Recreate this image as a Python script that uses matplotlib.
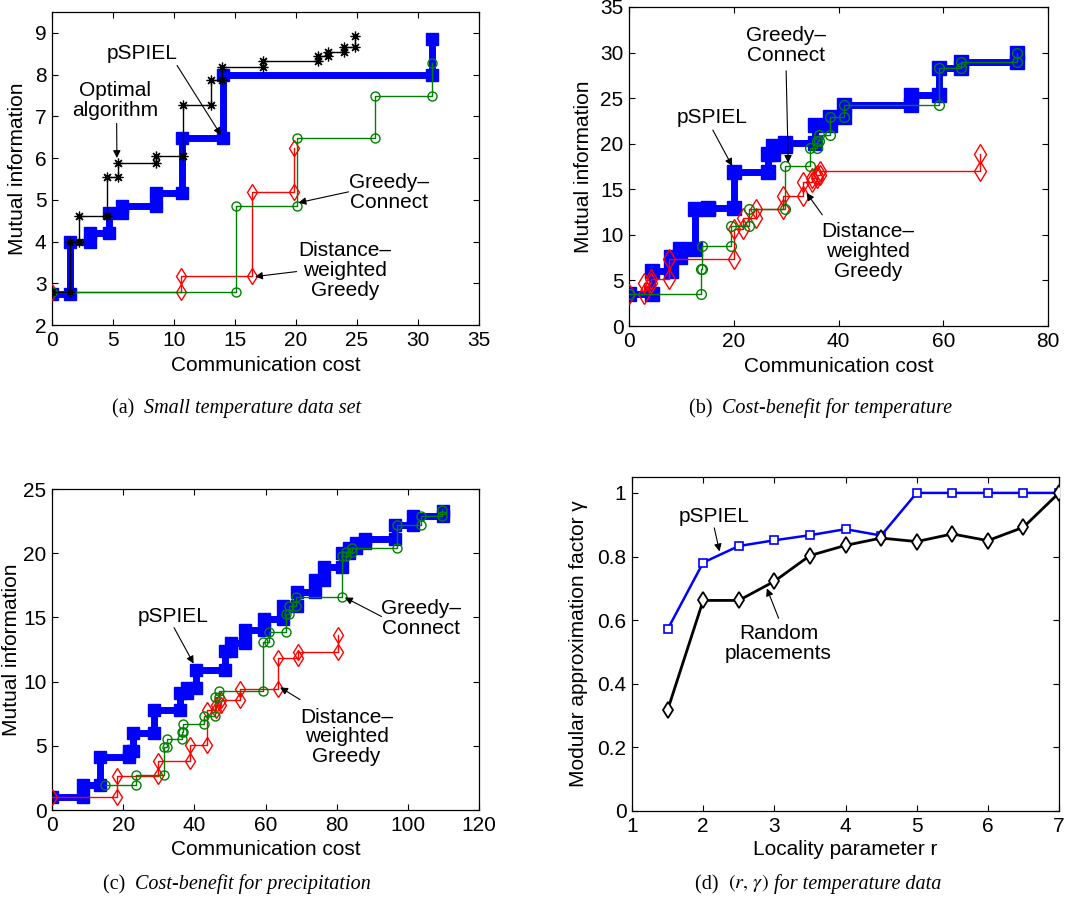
import matplotlib
matplotlib.use("Agg")
import matplotlib.pyplot as plt
from matplotlib.text import Annotation
from matplotlib.ticker import FuncFormatter

plt.rcParams['font.family'] = ['Liberation Sans', 'DejaVu Sans']
plt.rcParams['mathtext.fontset'] = 'stix'

# ---------------- (a) Small temperature data set ----------------
a_pspiel_cost = [0, 1.5, 3.1, 4.7, 5.7, 8.55, 10.65, 14.0, 31.15]
a_pspiel_mi = [2.75, 4.0, 4.2, 4.68, 4.84, 5.16, 6.47, 8.0, 8.86]
a_opt_cost = [0, 1.5, 2.25, 4.5, 5.4, 8.5, 10.7, 13.0, 13.9, 17.3, 21.8, 22.6, 23.9, 24.8]
a_opt_mi = [2.78, 4.0, 4.6, 5.55, 5.87, 6.06, 7.28, 7.88, 8.18, 8.33, 8.45, 8.55, 8.65, 8.93]
a_gc_cost = [0, 15.1, 20.05, 26.45, 31.15]
a_gc_mi = [2.78, 4.84, 6.48, 7.48, 8.27]
a_dwg_cost = [0, 10.6, 16.37, 19.86]
a_dwg_mi = [2.78, 3.18, 5.18, 6.25]

# ---------------- (b) Cost-benefit for temperature ----------------
b_pspiel_cost = [0, 4.3, 8.1, 9.7, 12.6, 15.0, 20.0, 26.5, 27.5, 29.8, 35.6, 38.3,
                 41.0, 53.9, 59.2, 63.3, 74.0]
b_pspiel_mi = [3.5, 6.0, 7.6, 8.4, 12.8, 12.95, 16.9, 18.9, 19.8, 20.1, 22.0, 22.9,
               24.2, 25.3, 28.3, 29.0, 29.9]
b_gc_cost = [0, 13.8, 13.9, 19.5, 22.9, 29.7, 34.6, 35.9, 36.2, 38.3, 41.0, 59.2, 63.3, 74.0]
b_gc_mi = [3.5, 6.25, 8.75, 10.95, 12.85, 17.5, 19.5, 20.3, 21.0, 22.9, 24.2, 28.3, 29.0, 30.0]
b_dwg_cost = [0, 2.9, 4.2, 7.6, 20.0, 21.8, 24.3, 29.4, 33.2, 35.0, 35.8, 36.5, 67.0]
b_dwg_mi = [3.5, 4.7, 5.2, 7.3, 10.6, 11.9, 12.8, 14.25, 15.8, 16.2, 16.6, 17.0, 18.85]

# ---------------- (c) Cost-benefit for precipitation ----------------
c_pspiel_cost = [0, 8.7, 13.4, 21.5, 22.9, 28.7, 36.0, 38.0, 40.5, 48.6, 50.3, 54.3,
                 59.7, 64.8, 68.8, 73.9, 76.5, 81.6, 83.5, 85.5, 88.0, 96.5, 101.5, 110.0]
c_pspiel_mi = [1.04, 1.95, 4.16, 4.6, 6.0, 7.8, 9.1, 9.5, 10.9, 12.35, 13.0, 14.0,
               14.9, 15.85, 17.0, 17.9, 18.9, 20.0, 20.4, 20.8, 21.1, 22.2, 22.9, 23.3]
c_gc_cost = [15.0, 23.7, 31.6, 32.3, 36.5, 36.8, 42.6, 45.8, 47.0, 59.4, 61.1, 65.8,
             66.7, 68.6, 81.6, 82.5, 84.4, 97.0, 103.6, 109.7]
c_gc_mi = [1.95, 2.73, 4.9, 5.5, 6.1, 6.7, 7.3, 8.8, 9.3, 13.1, 13.9, 15.25,
           15.9, 16.55, 19.8, 20.1, 20.4, 22.2, 22.9, 23.4]
c_dwg_cost = [0, 18.4, 29.7, 38.8, 43.7, 46.0, 47.5, 52.7, 63.6, 69.2, 80.4]
c_dwg_mi = [1.04, 2.65, 3.85, 5.07, 7.8, 8.2, 8.6, 9.4, 11.8, 12.3, 13.65]

# ---------------- (d) (r, gamma) for temperature data ----------------
d_r = [1.5, 2.0, 2.5, 3.0, 3.5, 4.0, 4.5, 5.0, 5.5, 6.0, 6.5, 7.0]
d_pspiel_gamma = [0.571, 0.781, 0.833, 0.851, 0.867, 0.886, 0.866, 1.0, 1.0, 1.0, 1.0, 1.0]
d_random_gamma = [0.317, 0.662, 0.662, 0.722, 0.803, 0.835, 0.858, 0.847, 0.871, 0.850, 0.892, 1.0]

BLUE = '#0000ff'
GREEN = '#008000'
RED = '#ff0000'
FS = 15
DASH = '\u2013'


def stairs(costs, vals):
    """Vertices of a staircase: move right at the old value, then up to the new one."""
    xs, ys = [costs[0]], [vals[0]]
    for c, v_prev, v in zip(costs[1:], vals[:-1], vals[1:]):
        xs += [c, c]
        ys += [v_prev, v]
    return xs, ys


def style_axes(ax):
    ax.tick_params(direction='in', top=True, right=True, length=4.5, width=0.8,
                   labelsize=FS, pad=4)
    for s in ax.spines.values():
        s.set_linewidth(0.9)


def pspiel(ax, costs, vals, ms=9):
    xs, ys = stairs(costs, vals)
    ax.plot(xs, ys, color=BLUE, lw=5, marker='s', ms=ms, mfc=BLUE, mec=BLUE, zorder=2)


def greedy_connect(ax, costs, vals, ms=6.5):
    xs, ys = stairs(costs, vals)
    ax.plot(xs, ys, color=GREEN, lw=1.0, marker='o', ms=ms, mfc='none', mec=GREEN,
            mew=1.0, zorder=4)


def dist_weighted(ax, costs, vals, ms=8):
    xs, ys = stairs(costs, vals)
    ax.plot(xs, ys, color=RED, lw=1.0, marker='d', ms=ms, mfc='none', mec=RED,
            mew=1.0, zorder=3)


def label(ax, text, xy, head, tail):
    ax.text(xy[0], xy[1], text, ha='center', va='center', fontsize=FS,
            linespacing=1.05, zorder=6)
    ax.annotate('', xy=head, xytext=tail,
                arrowprops=dict(arrowstyle='-|>', color='k', lw=0.8,
                                mutation_scale=11, shrinkA=0, shrinkB=0), zorder=6)


def axis_labels(ax, xlabel, ylabel, xpos, ypos):
    ax.set_xlabel(xlabel, fontsize=FS)
    ax.set_ylabel(ylabel, fontsize=FS)
    ax.xaxis.set_label_coords(0.5, xpos)
    ax.yaxis.set_label_coords(ypos, 0.5)


W, H = 1074, 905
fig = plt.figure(figsize=(W / 100, H / 100), dpi=100)


def box(l, t, r, b):
    return [l / W, 1 - b / H, (r - l) / W, (b - t) / H]


# (a)
ax = fig.add_axes(box(52, 12, 479, 325))
pspiel(ax, a_pspiel_cost, a_pspiel_mi)
dist_weighted(ax, a_dwg_cost, a_dwg_mi)
greedy_connect(ax, a_gc_cost, a_gc_mi)
xs, ys = stairs(a_opt_cost, a_opt_mi)
ax.plot(xs, ys, color='k', lw=1.0, marker=(8, 2, 0), ms=7, mew=0.9, zorder=5)
ax.set_xlim(0, 35)
ax.set_ylim(2, 9.5)
ax.set_xticks(range(0, 36, 5))
ax.set_yticks(range(2, 10))
label(ax, 'pSPIEL', (7.4, 8.5), (13.85, 6.55), (10.25, 8.22))
label(ax, 'Optimal\nalgorithm', (5.2, 7.38), (5.32, 6.0), (5.3, 6.83))
label(ax, 'Greedy' + DASH + '\nConnect', (27.6, 5.17), (20.2, 4.93), (24.3, 5.19))
label(ax, 'Distance' + DASH + '\nweighted\nGreedy', (24.0, 3.3), (16.64, 3.16), (20.05, 3.28))
axis_labels(ax, 'Communication cost', 'Mutual information', -0.099, -0.058)
style_axes(ax)

# (b)
ax = fig.add_axes(box(629, 7, 1048, 326))
pspiel(ax, b_pspiel_cost, b_pspiel_mi, ms=10)
dist_weighted(ax, b_dwg_cost, b_dwg_mi, ms=10)
greedy_connect(ax, b_gc_cost, b_gc_mi, ms=7)
ax.set_xlim(0, 80)
ax.set_ylim(0, 35)
ax.set_xticks(range(0, 81, 20))
ax.set_yticks(range(0, 36, 5))
label(ax, 'Greedy' + DASH + '\nConnect', (29.9, 30.8), (30.4, 17.9), (30.0, 28.0))
label(ax, 'pSPIEL', (15.9, 22.9), (19.7, 17.55), (16.0, 21.5))
label(ax, 'Distance' + DASH + '\nweighted\nGreedy', (45.6, 8.2), (33.9, 14.6), (36.9, 12.2))
axis_labels(ax, 'Communication cost', 'Mutual information', -0.097, -0.086)
style_axes(ax)

# (c)
ax = fig.add_axes(box(52, 489, 479, 810))
pspiel(ax, c_pspiel_cost, c_pspiel_mi)
dist_weighted(ax, c_dwg_cost, c_dwg_mi)
greedy_connect(ax, c_gc_cost, c_gc_mi)
ax.set_xlim(0, 120)
ax.set_ylim(0, 25)
ax.set_xticks(range(0, 121, 20))
ax.set_yticks(range(0, 26, 5))
label(ax, 'pSPIEL', (34.1, 15.1), (39.8, 11.4), (34.3, 14.2))
label(ax, 'Greedy' + DASH + '\nConnect', (103.8, 14.9), (82.3, 16.55), (92.6, 15.07))
label(ax, 'Distance' + DASH + '\nweighted\nGreedy', (82.8, 5.7), (64.1, 9.55), (69.7, 8.6))
axis_labels(ax, 'Communication cost', 'Mutual information', -0.093, -0.072)
style_axes(ax)

# (d)
ax = fig.add_axes(box(632, 477, 1059, 811))
ax.plot(d_r, d_pspiel_gamma, color=BLUE, lw=1.8, marker='s', ms=6, mfc='white',
        mec=BLUE, mew=1.2, zorder=3)
ax.plot(d_r, d_random_gamma, color='k', lw=2.0, marker='d', ms=8.5, mfc='white',
        mec='k', mew=1.3, zorder=4)
ax.set_xlim(1, 7)
ax.set_ylim(0, 1.05)
ax.set_xticks(range(1, 8))
ax.set_yticks([0, 0.2, 0.4, 0.6, 0.8, 1.0])
ax.yaxis.set_major_formatter(FuncFormatter(lambda v, p: '%g' % round(v, 2)))
label(ax, 'pSPIEL', (2.15, 0.926), (2.23, 0.816), (2.156, 0.89))
label(ax, 'Random\nplacements', (3.06, 0.527), (2.895, 0.70), (3.06, 0.606))
axis_labels(ax, 'Locality parameter r', 'Modular approximation factor \u03b3', -0.087, -0.103)
style_axes(ax)


# Sub-figure captions: upright tag followed by italic description, pieces chained
def caption(x, y, parts):
    kw0 = dict(fontsize=14.5, family='Liberation Serif')
    kw0.update(parts[0][1])
    prev = fig.text(x / W, 1 - y / H, parts[0][0], ha='left', va='baseline', **kw0)
    for text, extra in parts[1:]:
        kw = dict(fontsize=14.5, family='Liberation Serif')
        kw.update(extra)
        prev = fig.add_artist(Annotation(
            text, xy=(1, 0), xycoords=prev, xytext=(0, 0), textcoords='offset points',
            ha='left', va='bottom', **kw))
    return prev


IT = dict(style='italic')
caption(112, 413, [('(a)  ', {}), ('Small temperature data set', IT)])
caption(689, 413, [('(b)  ', {}), ('Cost-benefit for temperature', IT)])
caption(103, 889, [('(c)  ', {}), ('Cost-benefit for precipitation', IT)])
caption(695, 889, [('(d)  ', {}), (r'$(r,\,\gamma)$', {}), (' for temperature data', IT)])

fig.savefig('out.png', dpi=100)
